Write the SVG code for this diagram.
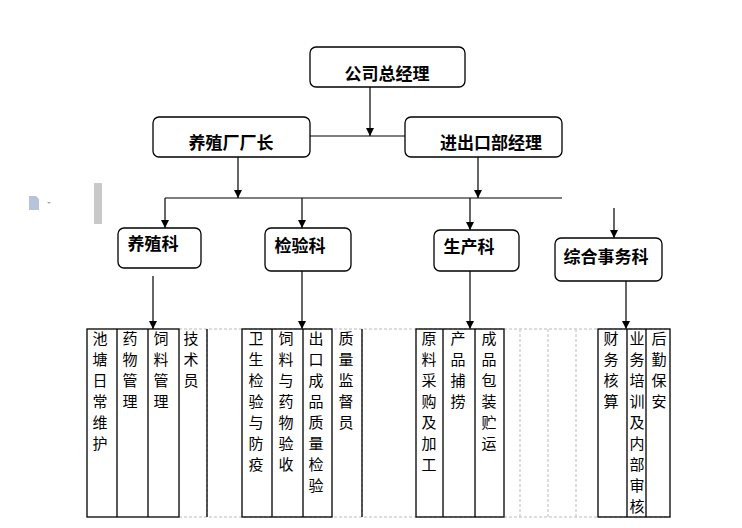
<svg xmlns="http://www.w3.org/2000/svg" width="742" height="528" viewBox="0 0 742 528">
<style>
.b{fill:#fff;stroke:#000;stroke-width:1.3}
.t{font-family:"Noto Sans CJK SC",sans-serif;font-size:17px;font-weight:bold;text-anchor:middle}
.v{font-family:"Noto Sans CJK SC",sans-serif;font-size:15px;text-anchor:middle}
.l{stroke:#000;stroke-width:1.2;fill:none}
.d{stroke:#bbb;stroke-width:1;stroke-dasharray:3,2;fill:none}
.c{fill:none;stroke:#000;stroke-width:1.3}
</style>
<defs><marker id="a" markerWidth="9" markerHeight="9" refX="8" refY="4" orient="auto" markerUnits="userSpaceOnUse"><path d="M0,0 L8,4 L0,8 Z" fill="#000"/></marker></defs>
<rect x="94" y="183" width="8" height="41" fill="#c8c8c8"/>
<path d="M29,196 h7 l3,3 v11 h-10 Z" fill="#b7c3d9"/>
<path d="M47,202 l2,2 l2,-2 Z" fill="#aaa"/>
<g id="connectors">
<path class="l" d="M370,87 V136" marker-end="url(#a)"/>
<path class="l" d="M310,136 H405"/>
<path class="l" d="M238,157 V198" marker-end="url(#a)"/>
<path class="l" d="M478,157 V198" marker-end="url(#a)"/>
<path class="l" d="M165,198 H562"/>
<path class="l" d="M165,198 V228" marker-end="url(#a)"/>
<path class="l" d="M302,198 V228" marker-end="url(#a)"/>
<path class="l" d="M470,198 V230" marker-end="url(#a)"/>
<path class="l" d="M614,208 V238" marker-end="url(#a)"/>
<path class="l" d="M153,276 V329" marker-end="url(#a)"/>
<path class="l" d="M302,271 V329" marker-end="url(#a)"/>
<path class="l" d="M470,271 V329" marker-end="url(#a)"/>
<path class="l" d="M626,281 V329" marker-end="url(#a)"/>
</g>
<g id="n1"><rect class="b" x="310" y="47" width="155" height="40" rx="6"/><text class="t" x="387" y="80">公司总经理</text></g>
<g id="n2"><rect class="b" x="153" y="117" width="157" height="40" rx="6"/><text class="t" x="231" y="149">养殖厂厂长</text></g>
<g id="n3"><rect class="b" x="405" y="117" width="157" height="40" rx="6"/><text class="t" x="491" y="149">进出口部经理</text></g>
<g id="n4"><rect class="b" x="118" y="228" width="83" height="40" rx="6"/><text class="t" x="153" y="250">养殖科</text></g>
<g id="n5"><rect class="b" x="265" y="228" width="86" height="43" rx="6"/><text class="t" x="300" y="252">检验科</text></g>
<g id="n6"><rect class="b" x="434" y="230" width="85" height="41" rx="6"/><text class="t" x="469" y="253">生产科</text></g>
<g id="n7"><rect class="b" x="555" y="238" width="107" height="43" rx="6"/><text class="t" x="606" y="263">综合事务科</text></g>
<g id="table">
<path class="d" d="M179,329 H670 M179,517 H670 M520,329 V517 M548,329 V517 M576,329 V517 M207,329 V517 M362,329 V517"/>
<rect class="c" x="87" y="329" width="92" height="188"/>
<path class="c" d="M117,329 V517 M148,329 V517 M207,329 V517"/>
<rect class="c" x="242" y="329" width="90" height="188"/>
<path class="c" d="M272,329 V517 M303,329 V517 M362,329 V517"/>
<rect class="c" x="416" y="329" width="88" height="188"/>
<path class="c" d="M443,329 V517 M475,329 V517"/>
<rect class="c" x="598" y="329" width="72" height="188"/>
<path class="c" d="M627,329 V517 M646,329 V517"/>
</g>
<g class="v">
<text x="100" y="344"><tspan x="100" dy="0">池</tspan><tspan x="100" dy="21">塘</tspan><tspan x="100" dy="21">日</tspan><tspan x="100" dy="21">常</tspan><tspan x="100" dy="21">维</tspan><tspan x="100" dy="21">护</tspan></text>
<text x="130" y="344"><tspan x="130" dy="0">药</tspan><tspan x="130" dy="21">物</tspan><tspan x="130" dy="21">管</tspan><tspan x="130" dy="21">理</tspan></text>
<text x="161" y="344"><tspan x="161" dy="0">饲</tspan><tspan x="161" dy="21">料</tspan><tspan x="161" dy="21">管</tspan><tspan x="161" dy="21">理</tspan></text>
<text x="191" y="344"><tspan x="191" dy="0">技</tspan><tspan x="191" dy="21">术</tspan><tspan x="191" dy="21">员</tspan></text>
<text x="256" y="344"><tspan x="256" dy="0">卫</tspan><tspan x="256" dy="21">生</tspan><tspan x="256" dy="21">检</tspan><tspan x="256" dy="21">验</tspan><tspan x="256" dy="21">与</tspan><tspan x="256" dy="21">防</tspan><tspan x="256" dy="21">疫</tspan></text>
<text x="286" y="344"><tspan x="286" dy="0">饲</tspan><tspan x="286" dy="21">料</tspan><tspan x="286" dy="21">与</tspan><tspan x="286" dy="21">药</tspan><tspan x="286" dy="21">物</tspan><tspan x="286" dy="21">验</tspan><tspan x="286" dy="21">收</tspan></text>
<text x="316" y="344"><tspan x="316" dy="0">出</tspan><tspan x="316" dy="21">口</tspan><tspan x="316" dy="21">成</tspan><tspan x="316" dy="21">品</tspan><tspan x="316" dy="21">质</tspan><tspan x="316" dy="21">量</tspan><tspan x="316" dy="21">检</tspan><tspan x="316" dy="21">验</tspan></text>
<text x="346" y="344"><tspan x="346" dy="0">质</tspan><tspan x="346" dy="21">量</tspan><tspan x="346" dy="21">监</tspan><tspan x="346" dy="21">督</tspan><tspan x="346" dy="21">员</tspan></text>
<text x="429" y="344"><tspan x="429" dy="0">原</tspan><tspan x="429" dy="21">料</tspan><tspan x="429" dy="21">采</tspan><tspan x="429" dy="21">购</tspan><tspan x="429" dy="21">及</tspan><tspan x="429" dy="21">加</tspan><tspan x="429" dy="21">工</tspan></text>
<text x="458" y="344"><tspan x="458" dy="0">产</tspan><tspan x="458" dy="21">品</tspan><tspan x="458" dy="21">捕</tspan><tspan x="458" dy="21">捞</tspan></text>
<text x="489" y="344"><tspan x="489" dy="0">成</tspan><tspan x="489" dy="21">品</tspan><tspan x="489" dy="21">包</tspan><tspan x="489" dy="21">装</tspan><tspan x="489" dy="21">贮</tspan><tspan x="489" dy="21">运</tspan></text>
<text x="611" y="344"><tspan x="611" dy="0">财</tspan><tspan x="611" dy="21">务</tspan><tspan x="611" dy="21">核</tspan><tspan x="611" dy="21">算</tspan></text>
<text x="637" y="344"><tspan x="637" dy="0">业</tspan><tspan x="637" dy="21">务</tspan><tspan x="637" dy="21">培</tspan><tspan x="637" dy="21">训</tspan><tspan x="637" dy="21">及</tspan><tspan x="637" dy="21">内</tspan><tspan x="637" dy="21">部</tspan><tspan x="637" dy="21">审</tspan><tspan x="637" dy="21">核</tspan></text>
<text x="659" y="344"><tspan x="659" dy="0">后</tspan><tspan x="659" dy="21">勤</tspan><tspan x="659" dy="21">保</tspan><tspan x="659" dy="21">安</tspan></text>
</g>
</svg>
